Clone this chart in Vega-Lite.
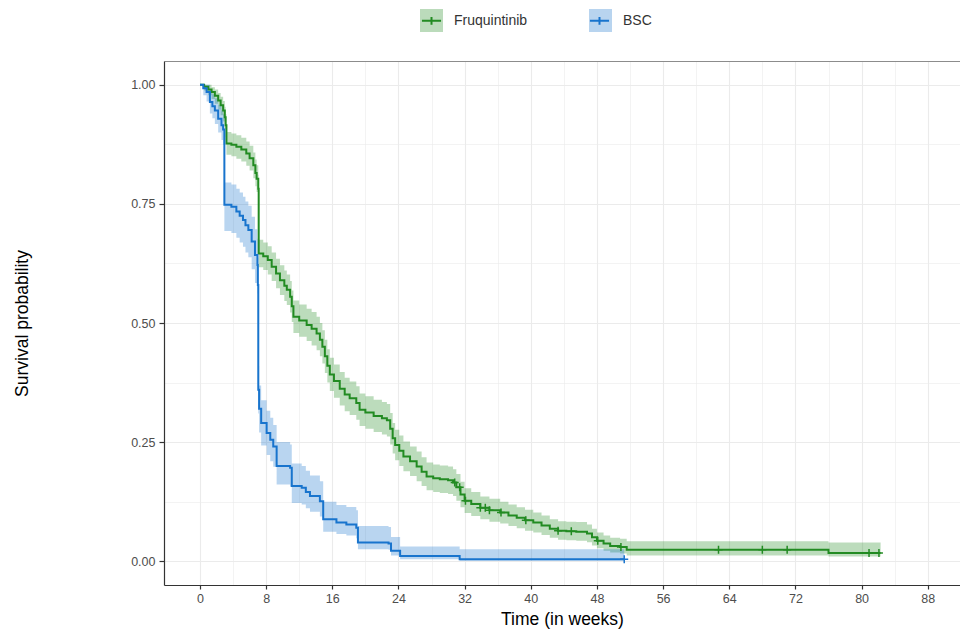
{
  "$schema": "https://vega.github.io/schema/vega-lite/v6.json",
  "width": 796,
  "height": 524,
  "autosize": {"type": "none"},
  "padding": {"left": 164, "top": 61, "right": 0, "bottom": 47},
  "background": "white",
  "config": {
    "view": {"stroke": null},
    "font": "Liberation Sans",
    "axis": {"labelFont": "Liberation Sans", "titleFont": "Liberation Sans"},
    "legend": {"labelFont": "Liberation Sans"}
  },
  "datasets": {
    "km": [
      {"time": 0, "surv": 1.0, "lower": 1.0, "upper": 1.0, "group": "Fruquintinib"},
      {"time": 0.5, "surv": 0.996, "lower": 0.988, "upper": 1.0, "group": "Fruquintinib"},
      {"time": 1.0, "surv": 0.99, "lower": 0.978, "upper": 1.0, "group": "Fruquintinib"},
      {"time": 1.4, "surv": 0.985, "lower": 0.97, "upper": 0.995, "group": "Fruquintinib"},
      {"time": 1.8, "surv": 0.977, "lower": 0.96, "upper": 0.99, "group": "Fruquintinib"},
      {"time": 2.2, "surv": 0.967, "lower": 0.948, "upper": 0.983, "group": "Fruquintinib"},
      {"time": 2.5, "surv": 0.957, "lower": 0.936, "upper": 0.975, "group": "Fruquintinib"},
      {"time": 2.8, "surv": 0.946, "lower": 0.923, "upper": 0.966, "group": "Fruquintinib"},
      {"time": 3.0, "surv": 0.932, "lower": 0.907, "upper": 0.954, "group": "Fruquintinib"},
      {"time": 3.1, "surv": 0.915, "lower": 0.89, "upper": 0.938, "group": "Fruquintinib"},
      {"time": 3.2, "surv": 0.877, "lower": 0.853, "upper": 0.901, "group": "Fruquintinib"},
      {"time": 3.8, "surv": 0.874, "lower": 0.85, "upper": 0.898, "group": "Fruquintinib"},
      {"time": 4.4, "surv": 0.87, "lower": 0.845, "upper": 0.894, "group": "Fruquintinib"},
      {"time": 5.0, "surv": 0.864, "lower": 0.839, "upper": 0.889, "group": "Fruquintinib"},
      {"time": 5.6, "surv": 0.856, "lower": 0.83, "upper": 0.881, "group": "Fruquintinib"},
      {"time": 6.0, "surv": 0.846, "lower": 0.82, "upper": 0.872, "group": "Fruquintinib"},
      {"time": 6.45, "surv": 0.831, "lower": 0.804, "upper": 0.858, "group": "Fruquintinib"},
      {"time": 6.7, "surv": 0.815, "lower": 0.787, "upper": 0.843, "group": "Fruquintinib"},
      {"time": 6.85, "surv": 0.803, "lower": 0.775, "upper": 0.831, "group": "Fruquintinib"},
      {"time": 7.05, "surv": 0.782, "lower": 0.753, "upper": 0.811, "group": "Fruquintinib"},
      {"time": 7.1, "surv": 0.646, "lower": 0.617, "upper": 0.675, "group": "Fruquintinib"},
      {"time": 7.65, "surv": 0.64, "lower": 0.611, "upper": 0.669, "group": "Fruquintinib"},
      {"time": 8.2, "surv": 0.632, "lower": 0.602, "upper": 0.661, "group": "Fruquintinib"},
      {"time": 8.67, "surv": 0.618, "lower": 0.588, "upper": 0.648, "group": "Fruquintinib"},
      {"time": 9.2, "surv": 0.604, "lower": 0.573, "upper": 0.635, "group": "Fruquintinib"},
      {"time": 9.67, "surv": 0.59, "lower": 0.559, "upper": 0.621, "group": "Fruquintinib"},
      {"time": 10.2, "surv": 0.578, "lower": 0.546, "upper": 0.61, "group": "Fruquintinib"},
      {"time": 10.5, "surv": 0.57, "lower": 0.538, "upper": 0.602, "group": "Fruquintinib"},
      {"time": 10.9, "surv": 0.555, "lower": 0.522, "upper": 0.588, "group": "Fruquintinib"},
      {"time": 11.1, "surv": 0.535, "lower": 0.502, "upper": 0.568, "group": "Fruquintinib"},
      {"time": 11.3, "surv": 0.513, "lower": 0.479, "upper": 0.547, "group": "Fruquintinib"},
      {"time": 12.0, "surv": 0.505, "lower": 0.471, "upper": 0.539, "group": "Fruquintinib"},
      {"time": 12.9, "surv": 0.496, "lower": 0.462, "upper": 0.53, "group": "Fruquintinib"},
      {"time": 13.5, "surv": 0.488, "lower": 0.453, "upper": 0.523, "group": "Fruquintinib"},
      {"time": 14.1, "surv": 0.478, "lower": 0.443, "upper": 0.513, "group": "Fruquintinib"},
      {"time": 14.5, "surv": 0.465, "lower": 0.43, "upper": 0.5, "group": "Fruquintinib"},
      {"time": 14.8, "surv": 0.45, "lower": 0.415, "upper": 0.485, "group": "Fruquintinib"},
      {"time": 15.1, "surv": 0.43, "lower": 0.395, "upper": 0.465, "group": "Fruquintinib"},
      {"time": 15.4, "surv": 0.41, "lower": 0.375, "upper": 0.445, "group": "Fruquintinib"},
      {"time": 15.7, "surv": 0.392, "lower": 0.357, "upper": 0.427, "group": "Fruquintinib"},
      {"time": 16.2, "surv": 0.378, "lower": 0.343, "upper": 0.413, "group": "Fruquintinib"},
      {"time": 16.9, "surv": 0.362, "lower": 0.327, "upper": 0.397, "group": "Fruquintinib"},
      {"time": 17.5, "surv": 0.35, "lower": 0.315, "upper": 0.385, "group": "Fruquintinib"},
      {"time": 18.1, "surv": 0.342, "lower": 0.307, "upper": 0.377, "group": "Fruquintinib"},
      {"time": 18.9, "surv": 0.332, "lower": 0.297, "upper": 0.367, "group": "Fruquintinib"},
      {"time": 19.3, "surv": 0.318, "lower": 0.284, "upper": 0.352, "group": "Fruquintinib"},
      {"time": 20.0, "surv": 0.312, "lower": 0.278, "upper": 0.346, "group": "Fruquintinib"},
      {"time": 21.0, "surv": 0.305, "lower": 0.271, "upper": 0.339, "group": "Fruquintinib"},
      {"time": 22.0, "surv": 0.3, "lower": 0.266, "upper": 0.334, "group": "Fruquintinib"},
      {"time": 22.6, "surv": 0.296, "lower": 0.262, "upper": 0.33, "group": "Fruquintinib"},
      {"time": 23.0, "surv": 0.278, "lower": 0.245, "upper": 0.311, "group": "Fruquintinib"},
      {"time": 23.3, "surv": 0.258, "lower": 0.226, "upper": 0.29, "group": "Fruquintinib"},
      {"time": 23.6, "surv": 0.244, "lower": 0.212, "upper": 0.276, "group": "Fruquintinib"},
      {"time": 24.1, "surv": 0.232, "lower": 0.2, "upper": 0.264, "group": "Fruquintinib"},
      {"time": 24.6, "surv": 0.22, "lower": 0.189, "upper": 0.251, "group": "Fruquintinib"},
      {"time": 25.4, "surv": 0.21, "lower": 0.179, "upper": 0.241, "group": "Fruquintinib"},
      {"time": 26.2, "surv": 0.199, "lower": 0.168, "upper": 0.23, "group": "Fruquintinib"},
      {"time": 26.8, "surv": 0.188, "lower": 0.158, "upper": 0.218, "group": "Fruquintinib"},
      {"time": 27.4, "surv": 0.178, "lower": 0.149, "upper": 0.207, "group": "Fruquintinib"},
      {"time": 28.2, "surv": 0.174, "lower": 0.145, "upper": 0.203, "group": "Fruquintinib"},
      {"time": 29.0, "surv": 0.172, "lower": 0.143, "upper": 0.201, "group": "Fruquintinib"},
      {"time": 30.0, "surv": 0.17, "lower": 0.141, "upper": 0.199, "group": "Fruquintinib"},
      {"time": 30.6, "surv": 0.165, "lower": 0.137, "upper": 0.193, "group": "Fruquintinib"},
      {"time": 31.0, "surv": 0.155, "lower": 0.127, "upper": 0.183, "group": "Fruquintinib"},
      {"time": 31.5, "surv": 0.14, "lower": 0.113, "upper": 0.167, "group": "Fruquintinib"},
      {"time": 32.0, "surv": 0.127, "lower": 0.101, "upper": 0.153, "group": "Fruquintinib"},
      {"time": 32.8, "surv": 0.12, "lower": 0.095, "upper": 0.145, "group": "Fruquintinib"},
      {"time": 33.9, "surv": 0.112, "lower": 0.088, "upper": 0.136, "group": "Fruquintinib"},
      {"time": 35.0, "surv": 0.107, "lower": 0.083, "upper": 0.131, "group": "Fruquintinib"},
      {"time": 36.3, "surv": 0.102, "lower": 0.079, "upper": 0.125, "group": "Fruquintinib"},
      {"time": 37.3, "surv": 0.096, "lower": 0.074, "upper": 0.119, "group": "Fruquintinib"},
      {"time": 38.3, "surv": 0.091, "lower": 0.069, "upper": 0.113, "group": "Fruquintinib"},
      {"time": 39.3, "surv": 0.086, "lower": 0.064, "upper": 0.108, "group": "Fruquintinib"},
      {"time": 40.3, "surv": 0.081, "lower": 0.06, "upper": 0.102, "group": "Fruquintinib"},
      {"time": 41.3, "surv": 0.075, "lower": 0.055, "upper": 0.096, "group": "Fruquintinib"},
      {"time": 42.3, "surv": 0.068, "lower": 0.049, "upper": 0.088, "group": "Fruquintinib"},
      {"time": 43.3, "surv": 0.064, "lower": 0.045, "upper": 0.084, "group": "Fruquintinib"},
      {"time": 44.3, "surv": 0.063, "lower": 0.044, "upper": 0.083, "group": "Fruquintinib"},
      {"time": 45.5, "surv": 0.062, "lower": 0.043, "upper": 0.082, "group": "Fruquintinib"},
      {"time": 46.8, "surv": 0.058, "lower": 0.04, "upper": 0.077, "group": "Fruquintinib"},
      {"time": 47.4, "surv": 0.05, "lower": 0.033, "upper": 0.068, "group": "Fruquintinib"},
      {"time": 48.0, "surv": 0.043, "lower": 0.027, "upper": 0.06, "group": "Fruquintinib"},
      {"time": 48.8, "surv": 0.037, "lower": 0.022, "upper": 0.054, "group": "Fruquintinib"},
      {"time": 49.6, "surv": 0.032, "lower": 0.018, "upper": 0.049, "group": "Fruquintinib"},
      {"time": 50.8, "surv": 0.03, "lower": 0.016, "upper": 0.047, "group": "Fruquintinib"},
      {"time": 51.6, "surv": 0.024, "lower": 0.012, "upper": 0.042, "group": "Fruquintinib"},
      {"time": 76.0, "surv": 0.017, "lower": 0.01, "upper": 0.039, "group": "Fruquintinib"},
      {"time": 82.3, "surv": 0.017, "lower": 0.01, "upper": 0.039, "group": "Fruquintinib"},
      {"time": 0, "surv": 1.0, "lower": 1.0, "upper": 1.0, "group": "BSC"},
      {"time": 0.4, "surv": 0.993, "lower": 0.978, "upper": 1.0, "group": "BSC"},
      {"time": 0.8, "surv": 0.985, "lower": 0.965, "upper": 1.0, "group": "BSC"},
      {"time": 1.2, "surv": 0.964, "lower": 0.94, "upper": 0.988, "group": "BSC"},
      {"time": 1.5, "surv": 0.955, "lower": 0.93, "upper": 0.98, "group": "BSC"},
      {"time": 1.8, "surv": 0.946, "lower": 0.918, "upper": 0.972, "group": "BSC"},
      {"time": 2.2, "surv": 0.929, "lower": 0.9, "upper": 0.958, "group": "BSC"},
      {"time": 2.6, "surv": 0.915, "lower": 0.884, "upper": 0.946, "group": "BSC"},
      {"time": 2.8, "surv": 0.906, "lower": 0.874, "upper": 0.938, "group": "BSC"},
      {"time": 2.95, "surv": 0.748, "lower": 0.693, "upper": 0.795, "group": "BSC"},
      {"time": 3.8, "surv": 0.744, "lower": 0.689, "upper": 0.791, "group": "BSC"},
      {"time": 4.4, "surv": 0.734, "lower": 0.679, "upper": 0.782, "group": "BSC"},
      {"time": 4.8, "surv": 0.725, "lower": 0.669, "upper": 0.774, "group": "BSC"},
      {"time": 5.2, "surv": 0.716, "lower": 0.66, "upper": 0.765, "group": "BSC"},
      {"time": 5.5, "surv": 0.705, "lower": 0.648, "upper": 0.755, "group": "BSC"},
      {"time": 5.85, "surv": 0.695, "lower": 0.638, "upper": 0.746, "group": "BSC"},
      {"time": 6.25, "surv": 0.671, "lower": 0.613, "upper": 0.723, "group": "BSC"},
      {"time": 6.65, "surv": 0.643, "lower": 0.584, "upper": 0.697, "group": "BSC"},
      {"time": 6.95, "surv": 0.622, "lower": 0.562, "upper": 0.677, "group": "BSC"},
      {"time": 7.0, "surv": 0.58, "lower": 0.52, "upper": 0.637, "group": "BSC"},
      {"time": 7.05, "surv": 0.36, "lower": 0.31, "upper": 0.41, "group": "BSC"},
      {"time": 7.15, "surv": 0.32, "lower": 0.27, "upper": 0.369, "group": "BSC"},
      {"time": 7.4, "surv": 0.29, "lower": 0.243, "upper": 0.338, "group": "BSC"},
      {"time": 8.06, "surv": 0.269, "lower": 0.223, "upper": 0.316, "group": "BSC"},
      {"time": 8.5, "surv": 0.255, "lower": 0.21, "upper": 0.301, "group": "BSC"},
      {"time": 8.86, "surv": 0.241, "lower": 0.198, "upper": 0.286, "group": "BSC"},
      {"time": 9.27, "surv": 0.2, "lower": 0.161, "upper": 0.25, "group": "BSC"},
      {"time": 10.9, "surv": 0.196, "lower": 0.157, "upper": 0.245, "group": "BSC"},
      {"time": 11.1, "surv": 0.158, "lower": 0.122, "upper": 0.205, "group": "BSC"},
      {"time": 12.3, "surv": 0.154, "lower": 0.119, "upper": 0.2, "group": "BSC"},
      {"time": 12.8, "surv": 0.145, "lower": 0.111, "upper": 0.19, "group": "BSC"},
      {"time": 13.3, "surv": 0.137, "lower": 0.104, "upper": 0.18, "group": "BSC"},
      {"time": 14.5, "surv": 0.126, "lower": 0.094, "upper": 0.168, "group": "BSC"},
      {"time": 14.9, "surv": 0.088, "lower": 0.062, "upper": 0.125, "group": "BSC"},
      {"time": 16.5, "surv": 0.081, "lower": 0.057, "upper": 0.118, "group": "BSC"},
      {"time": 17.7, "surv": 0.077, "lower": 0.054, "upper": 0.114, "group": "BSC"},
      {"time": 18.9, "surv": 0.07, "lower": 0.048, "upper": 0.107, "group": "BSC"},
      {"time": 19.1, "surv": 0.039, "lower": 0.025, "upper": 0.074, "group": "BSC"},
      {"time": 22.8, "surv": 0.037, "lower": 0.024, "upper": 0.072, "group": "BSC"},
      {"time": 23.1, "surv": 0.022, "lower": 0.012, "upper": 0.051, "group": "BSC"},
      {"time": 24.2, "surv": 0.011, "lower": 0.004, "upper": 0.031, "group": "BSC"},
      {"time": 31.4, "surv": 0.004, "lower": 0.001, "upper": 0.025, "group": "BSC"},
      {"time": 51.3, "surv": 0.004, "lower": 0.001, "upper": 0.025, "group": "BSC"}
    ],
    "censor": [
      {"time": 30.8, "surv": 0.165, "group": "Fruquintinib"},
      {"time": 31.4, "surv": 0.155, "group": "Fruquintinib"},
      {"time": 32.1, "surv": 0.127, "group": "Fruquintinib"},
      {"time": 33.9, "surv": 0.112, "group": "Fruquintinib"},
      {"time": 34.5, "surv": 0.112, "group": "Fruquintinib"},
      {"time": 35.0, "surv": 0.107, "group": "Fruquintinib"},
      {"time": 36.4, "surv": 0.102, "group": "Fruquintinib"},
      {"time": 39.4, "surv": 0.086, "group": "Fruquintinib"},
      {"time": 43.3, "surv": 0.064, "group": "Fruquintinib"},
      {"time": 44.9, "surv": 0.063, "group": "Fruquintinib"},
      {"time": 48.1, "surv": 0.043, "group": "Fruquintinib"},
      {"time": 50.9, "surv": 0.03, "group": "Fruquintinib"},
      {"time": 62.7, "surv": 0.024, "group": "Fruquintinib"},
      {"time": 68.0, "surv": 0.024, "group": "Fruquintinib"},
      {"time": 71.0, "surv": 0.024, "group": "Fruquintinib"},
      {"time": 80.9, "surv": 0.017, "group": "Fruquintinib"},
      {"time": 82.1, "surv": 0.017, "group": "Fruquintinib"},
      {"time": 51.3, "surv": 0.004, "group": "BSC"}
    ]
  },
  "layer": [
    {
      "data": {"name": "km"},
      "mark": {"type": "area", "interpolate": "step-after", "opacity": 0.3},
      "encoding": {
        "x": {
          "field": "time", "type": "quantitative",
          "scale": {"domain": [-4.35, 91.9], "nice": false, "zero": false},
          "axis": {"orient": "top", "values": [4, 12, 20, 28, 36, 44, 52, 60, 68, 76, 84], "grid": true, "gridColor": "#ebebeb", "gridWidth": 0.6, "labels": false, "ticks": false, "domain": true, "domainColor": "#8c8c8c", "domainWidth": 1, "title": null}
        },
        "y": {
          "field": "upper", "type": "quantitative",
          "scale": {"domain": [-0.05, 1.05], "nice": false, "zero": false},
          "axis": {"orient": "right", "values": [0.125, 0.375, 0.625, 0.875], "grid": true, "gridColor": "#ebebeb", "gridWidth": 0.6, "labels": false, "ticks": false, "domain": false, "title": null}
        },
        "y2": {"field": "lower"},
        "fill": {
          "field": "group", "type": "nominal",
          "scale": {"domain": ["Fruquintinib", "BSC"], "range": ["#228B22", "#1874CD"]},
          "legend": {"orient": "none", "legendX": 255, "legendY": -53, "direction": "horizontal", "title": null, "symbolType": "square", "symbolSize": 529, "symbolStrokeWidth": 2, "symbolStrokeColor": "transparent", "labelFontSize": 14, "labelColor": "#333333", "labelOffset": 10, "columnPadding": 57, "padding": 0}
        }
      }
    },
    {
      "data": {"name": "km"},
      "mark": {"type": "line", "interpolate": "step-after", "strokeWidth": 2},
      "encoding": {
        "x": {
          "field": "time", "type": "quantitative",
          "scale": {"domain": [-4.35, 91.9], "nice": false, "zero": false},
          "axis": {"values": [0, 8, 16, 24, 32, 40, 48, 56, 64, 72, 80, 88], "title": "Time (in weeks)", "grid": true, "gridColor": "#ebebeb", "gridWidth": 1.1, "domainColor": "#333333", "domainWidth": 1.2, "tickColor": "#333333", "tickWidth": 1.2, "tickSize": 4, "labelFontSize": 12.5, "labelColor": "#4d4d4d", "labelPadding": 3, "titleFontSize": 17.5, "titleFontWeight": "normal", "titleColor": "#000000", "titlePadding": 6}
        },
        "y": {
          "field": "surv", "type": "quantitative",
          "scale": {"domain": [-0.05, 1.05], "nice": false, "zero": false},
          "axis": {"values": [0, 0.25, 0.5, 0.75, 1], "format": ".2f", "title": "Survival probability", "grid": true, "gridColor": "#ebebeb", "gridWidth": 1.1, "domainColor": "#333333", "domainWidth": 1.2, "tickColor": "#333333", "tickWidth": 1.2, "tickSize": 5, "labelFontSize": 12.5, "labelColor": "#4d4d4d", "labelPadding": 4, "titleFontSize": 17.5, "titleFontWeight": "normal", "titleColor": "#000000", "titlePadding": 99}
        },
        "stroke": {
          "field": "group", "type": "nominal", "sort": ["Fruquintinib", "BSC"],
          "scale": {"range": ["#228B22", "#1874CD"]},
          "legend": {"orient": "none", "legendX": 255, "legendY": -53, "direction": "horizontal", "title": null, "symbolType": "M-0.83,0H0.83M0,-0.33V0.33", "symbolSize": 529, "symbolStrokeWidth": 2, "labelFontSize": 14, "labelColor": "transparent", "labelOffset": 10, "columnPadding": 57, "padding": 0}
        }
      }
    },
    {
      "data": {"name": "censor"},
      "mark": {"type": "point", "shape": "M0,-1V1M-1,0H1", "filled": false, "size": 64, "strokeWidth": 1.5, "opacity": 1},
      "encoding": {
        "x": {"field": "time", "type": "quantitative", "scale": {"domain": [-4.35, 91.9], "nice": false, "zero": false}, "axis": null},
        "y": {"field": "surv", "type": "quantitative", "scale": {"domain": [-0.05, 1.05], "nice": false, "zero": false}, "axis": null},
        "stroke": {"field": "group", "type": "nominal", "sort": ["Fruquintinib", "BSC"], "legend": null}
      }
    }
  ],
  "resolve": {"axis": {"x": "independent", "y": "independent"}}
}
